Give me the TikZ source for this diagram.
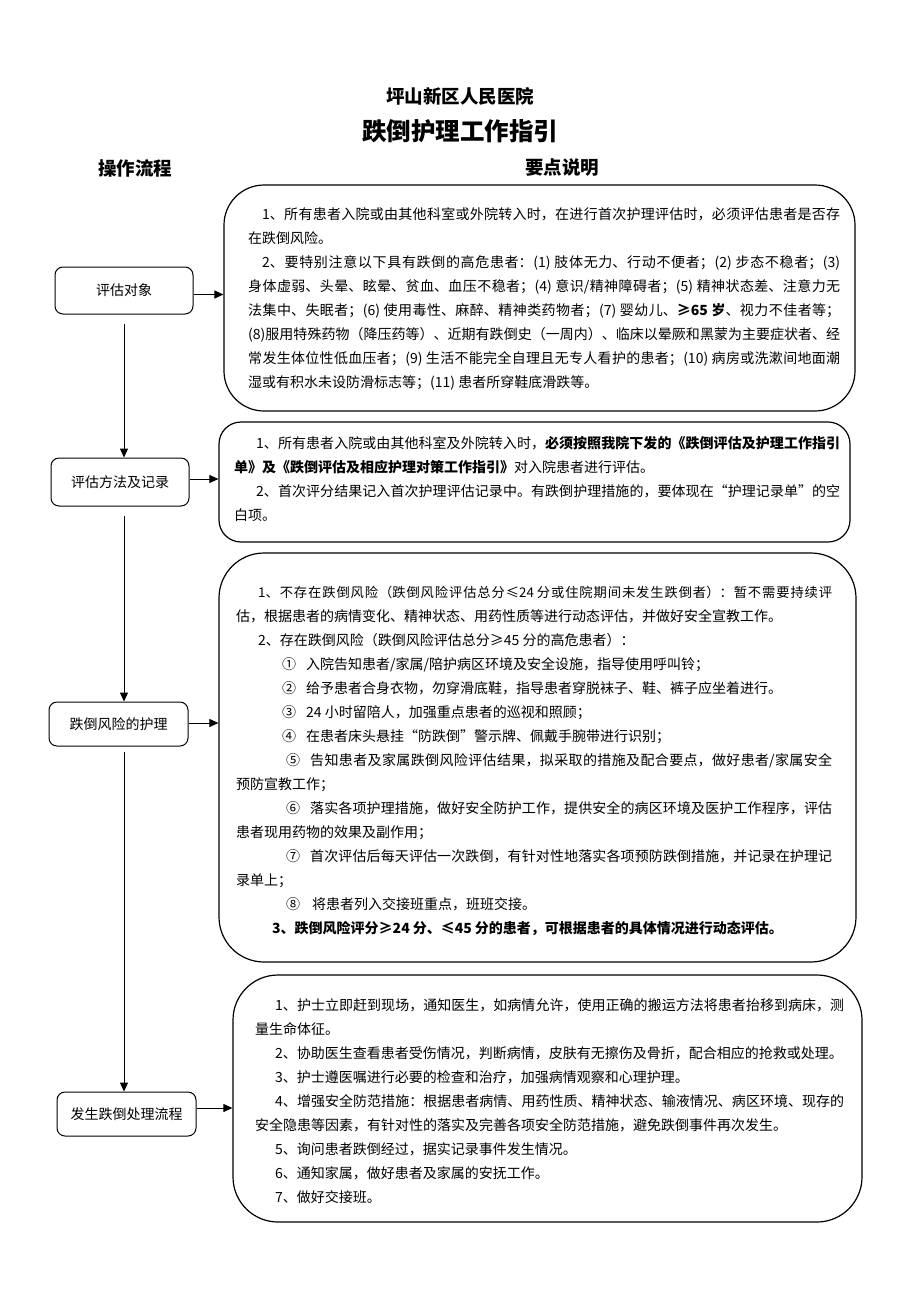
\documentclass[tikz,border=0pt]{standalone}
\usepackage{fontspec}
\setmainfont{Noto Sans CJK SC}
\usetikzlibrary{arrows.meta,calc}
\XeTeXlinebreaklocale "zh"
\XeTeXlinebreakskip=0pt plus 1.5pt minus 1pt
\tikzset{
  flowbox/.style={draw, line width=1pt, rounded corners=8pt, inner sep=0pt,
    font=\fontsize{14pt}{16pt}\selectfont},
  notebox/.style={draw, line width=1.2pt, inner sep=0pt},
  notetext/.style={anchor=base west, inner sep=0pt, align=justify,
    font=\fontsize{14pt}{24pt}\selectfont},
  headtext/.style={inner sep=0pt, font=\bfseries\fontsize{18.5pt}{20pt}\selectfont},
  arr/.style={line width=1pt, -{Triangle[length=9pt,width=8pt]}},
}
\begin{document}
\begin{tikzpicture}[x=1pt,y=-1pt]
\fill[white] (0,0) rectangle (920,1302);
\useasboundingbox (0,0) rectangle (920,1302);

% titles
\node[headtext] (title) at (460,96) {坪山新区人民医院};
\node[inner sep=0pt, font=\bfseries\fontsize{24.5pt}{26pt}\selectfont] (subtitle) at (460,131) {跌倒护理工作指引};
\node[headtext] (hleft) at (135,168) {操作流程};
\node[headtext] (hright) at (562,168) {要点说明};

% left flow nodes
\node[flowbox, minimum width=138pt, minimum height=47pt] (n1) at (124,290.5) {评估对象};
\node[flowbox, minimum width=138pt, minimum height=48pt] (n2) at (120,482) {评估方法及记录};
\node[flowbox, minimum width=139pt, minimum height=44pt] (n3) at (118.5,724) {跌倒风险的护理};
\node[flowbox, minimum width=139pt, minimum height=44pt] (n4) at (126.5,1114) {发生跌倒处理流程};

% right boxes
\node[notebox, rounded corners=40pt, minimum width=631pt, minimum height=226pt] (b1) at (539.5,298) {};
\node[notebox, rounded corners=22pt, minimum width=631pt, minimum height=120pt] (b2) at (534.5,482) {};
\node[notebox, rounded corners=45pt, minimum width=637pt, minimum height=409pt] (b3) at (537.5,757.5) {};
\node[notebox, rounded corners=45pt, minimum width=629pt, minimum height=247pt] (b4) at (547.5,1098.5) {};

% texts
\node[notetext, text width=592pt] (t1) at (248,219) {%
\hspace*{14pt}1、所有患者入院或由其他科室或外院转入时，在进行首次护理评估时，必须评估患者是否存\linebreak
在跌倒风险。\par
\hspace*{14pt}2、要特别注意以下具有跌倒的高危患者：(1) 肢体无力、行动不便者；(2) 步态不稳者；(3)\linebreak
身体虚弱、头晕、眩晕、贫血、血压不稳者；(4) 意识/精神障碍者；(5) 精神状态差、注意力无\linebreak
法集中、失眠者；(6) 使用毒性、麻醉、精神类药物者；(7) 婴幼儿、\textbf{≥65 岁}、视力不佳者等；\linebreak
(8)服用特殊药物（降压药等）、近期有跌倒史（一周内）、临床以晕厥和黑蒙为主要症状者、经\linebreak
常发生体位性低血压者；(9) 生活不能完全自理且无专人看护的患者；(10) 病房或洗漱间地面潮\linebreak
湿或有积水未设防滑标志等；(11) 患者所穿鞋底滑跌等。};

\node[notetext, text width=606pt] (t2) at (234,448) {%
\hspace*{22pt}1、所有患者入院或由其他科室及外院转入时，\textbf{必须按照我院下发的《跌倒评估及护理工作指引\linebreak
单》及《跌倒评估及相应护理对策工作指引》}对入院患者进行评估。\par
\hspace*{22pt}2、首次评分结果记入首次护理评估记录中。有跌倒护理措施的，要体现在“护理记录单”的空\linebreak
白项。};

\node[notetext, text width=596pt] (t3) at (236,597) {%
\hspace*{22pt}{\fontsize{13.3pt}{24pt}\selectfont 1、不存在跌倒风险（跌倒风险评估总分≤24\hspace{3pt}分或住院期间未发生跌倒者）：暂不需要持续评}\linebreak
估，根据患者的病情变化、精神状态、用药性质等进行动态评估，并做好安全宣教工作。\par
\hspace*{22pt}2、存在跌倒风险（跌倒风险评估总分≥45\hspace{3pt}分的高危患者）：\par
\hspace*{46pt}①\nobreak\hspace{10pt}入院告知患者/家属/陪护病区环境及安全设施，指导使用呼叫铃；\par
\hspace*{46pt}②\nobreak\hspace{10pt}给予患者合身衣物，勿穿滑底鞋，指导患者穿脱袜子、鞋、裤子应坐着进行。\par
\hspace*{46pt}③\nobreak\hspace{10pt}24 小时留陪人，加强重点患者的巡视和照顾；\par
\hspace*{46pt}④\nobreak\hspace{10pt}在患者床头悬挂“防跌倒”警示牌、佩戴手腕带进行识别；\par
\hspace*{50pt}⑤\nobreak\hspace{10pt}告知患者及家属跌倒风险评估结果，拟采取的措施及配合要点，做好患者/家属安全\linebreak
预防宣教工作；\par
\hspace*{50pt}⑥\nobreak\hspace{10pt}落实各项护理措施，做好安全防护工作，提供安全的病区环境及医护工作程序，评估\linebreak
患者现用药物的效果及副作用；\par
\hspace*{50pt}⑦\nobreak\hspace{10pt}首次评估后每天评估一次跌倒，有针对性地落实各项预防跌倒措施，并记录在护理记\linebreak
录单上；\par
\hspace*{50pt}⑧\nobreak\hspace{12pt}将患者列入交接班重点，班班交接。\par
\hspace*{36pt}\textbf{3、跌倒风险评分≥24\hspace{3pt}分、≤45\hspace{3pt}分的患者，可根据患者的具体情况进行动态评估。}};

\node[notetext, text width=589pt] (t4) at (255,1010) {%
\hspace*{20pt}1、护士立即赶到现场，通知医生，如病情允许，使用正确的搬运方法将患者抬移到病床，测\linebreak
量生命体征。\par
\hspace*{20pt}2、协助医生查看患者受伤情况，判断病情，皮肤有无擦伤及骨折，配合相应的抢救或处理。\par
\hspace*{20pt}3、护士遵医嘱进行必要的检查和治疗，加强病情观察和心理护理。\par
\hspace*{20pt}4、增强安全防范措施：根据患者病情、用药性质、精神状态、输液情况、病区环境、现存的\linebreak
安全隐患等因素，有针对性的落实及完善各项安全防范措施，避免跌倒事件再次发生。\par
\hspace*{20pt}5、询问患者跌倒经过，据实记录事件发生情况。\par
\hspace*{20pt}6、通知家属，做好患者及家属的安抚工作。\par
\hspace*{20pt}7、做好交接班。};

% connectors
\coordinate (spine) at (124,0);
\draw[arr, shorten <=9pt] (n1.south -| spine) -- (n2.north -| spine);
\draw[arr, shorten <=9pt] (n2.south -| spine) -- (n3.north -| spine);
\draw[arr, shorten <=5pt] (n3.south -| spine) -- (n4.north -| spine);
\draw[arr] ($(n1.east)+(0,4)$) -- ($(n1.east -| b1.west)+(0,4)$);
\draw[arr] ($(n2.east)+(0,-3)$) -- ($(n2.east -| b2.west)+(0,-3)$);
\draw[arr] ($(n3.east)+(0,-1)$) -- ($(n3.east -| b3.west)+(0,-1)$);
\draw[arr] ($(n4.east)+(0,-6)$) -- ($(n4.east -| b4.west)+(0,-6)$);
\end{tikzpicture}
\end{document}
